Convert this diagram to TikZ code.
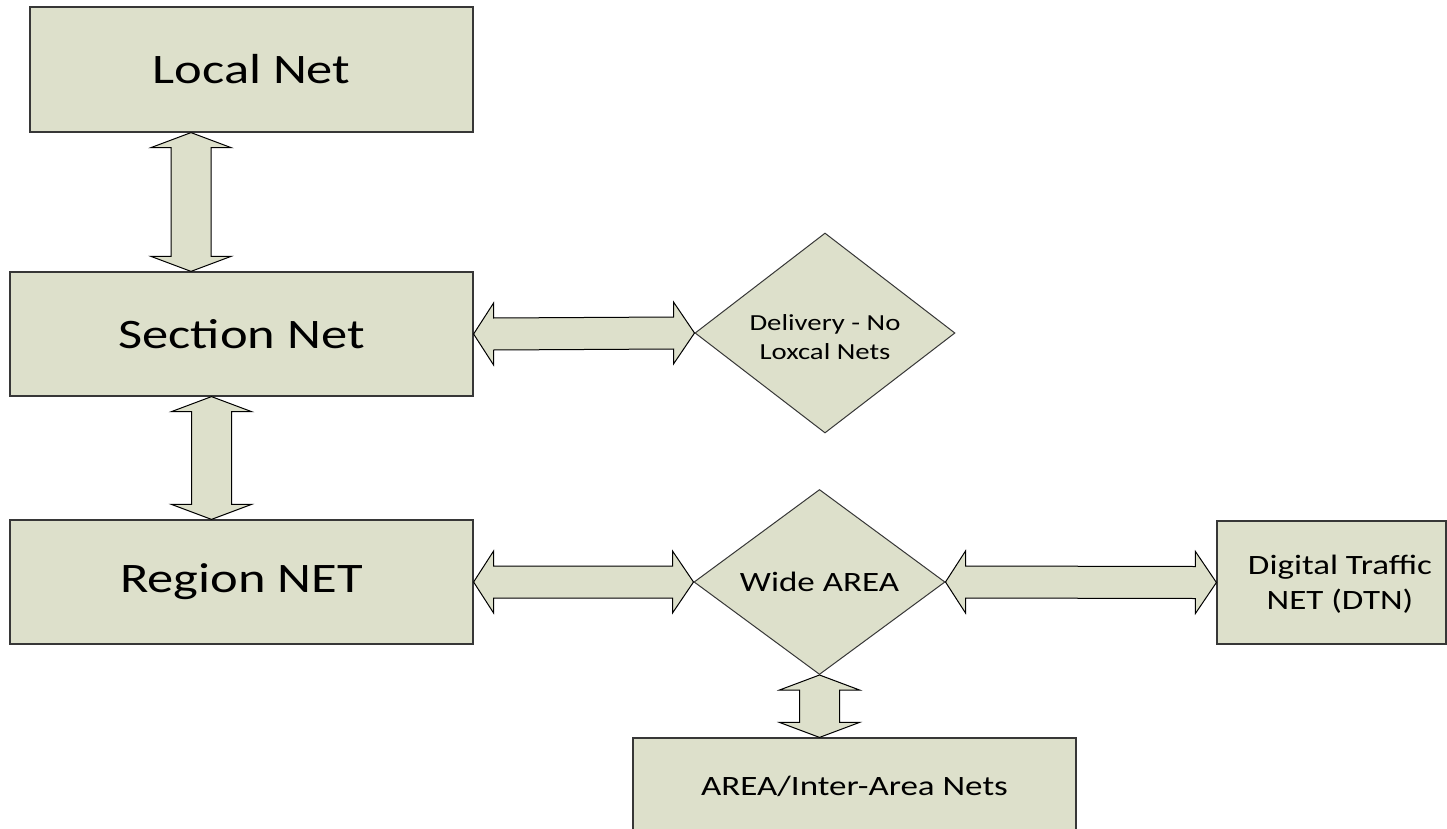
\documentclass[tikz,border=0pt]{standalone}
\usepackage{fontspec}
\setmainfont{Carlito}[FakeStretch=1.25]
\usetikzlibrary{shapes.geometric,calc}
\definecolor{boxfill}{RGB}{221,224,203}
\definecolor{boxline}{RGB}{55,55,55}
\tikzset{
  box/.style={draw=boxline, fill=boxfill, line width=1.2pt, inner sep=0pt, align=center},
  diam/.style={diamond, draw=boxline, fill=boxfill, line width=1pt, inner sep=0pt},
  barrow/.style={draw=black, fill=boxfill, line width=1pt, line join=miter},
  bigtxt/.style={font=\fontsize{42}{50}\selectfont},
  medtxt/.style={font=\fontsize{28}{35}\selectfont, align=center},
  smltxt/.style={font=\fontsize{23}{29}\selectfont, align=center}
}
\newcommand{\VArr}[2]{%
  \draw[barrow] let \p1=(#1), \p2=(#2) in
    (\p1) -- ($(\p1)+(40,15)$) -- ($(\p1)+(20,15)$) -- ($(\p2)+(20,-15)$)
    -- ($(\p2)+(40,-15)$) -- (\p2) -- ($(\p2)+(-40,-15)$) -- ($(\p2)+(-20,-15)$)
    -- ($(\p1)+(-20,15)$) -- ($(\p1)+(-40,15)$) -- cycle;}
\newcommand{\HArr}[2]{%
  \draw[barrow] let \p1=(#1), \p2=(#2) in
    (\p1) -- ($(\p1)+(20,-31)$) -- ($(\p1)+(20,-16)$) -- ($(\p2)+(-21,-16)$)
    -- ($(\p2)+(-21,-31)$) -- (\p2) -- ($(\p2)+(-21,31)$) -- ($(\p2)+(-21,16)$)
    -- ($(\p1)+(20,16)$) -- ($(\p1)+(20,31)$) -- cycle;}
\begin{document}
\begin{tikzpicture}[x=1pt, y=-1pt]
\useasboundingbox (0,0) rectangle (1447,829);
\clip (0,0) rectangle (1447,829);
\fill[white] (0,0) rectangle (1447,829);
% boxes
\node[box, bigtxt, minimum width=443pt, minimum height=125pt] (loc) at (251.5,69.5) {Local Net};
\node[box, bigtxt, minimum width=463pt, minimum height=124pt] (sec) at (241.5,334) {Section Net};
\node[box, bigtxt, minimum width=463pt, minimum height=124pt] (reg) at (241.5,582) {Region NET};
\node[diam, minimum width=260pt, minimum height=200pt] (del) at (825,333) {};
\node[smltxt] (deltxt) at (825,337) {Delivery - No\\Loxcal Nets};
\node[diam, minimum width=251pt, minimum height=185pt] (wide) at (819.5,582) {};
\node[medtxt] (widetxt) at (wide.center) {Wide AREA};
\node[box, minimum width=229pt, minimum height=123pt] (dtn) at (1331.5,582.5) {};
\node[medtxt] (dtntxt) at (1340,584) {Digital Traffic\\NET (DTN)};
\node[box, medtxt, minimum width=443pt, minimum height=97pt] (area) at (854.5,786.5) {AREA/Inter-Area Nets};
% block arrows
\VArr{191,0 |- loc.south}{191,0 |- sec.north}
\VArr{211.5,0 |- sec.south}{211.5,0 |- reg.north}
\HArr{sec.east}{del.west}
\HArr{reg.east}{wide.west}
\HArr{wide.east}{dtn.west}
\VArr{wide.south}{wide.south |- area.north}
\end{tikzpicture}
\end{document}
